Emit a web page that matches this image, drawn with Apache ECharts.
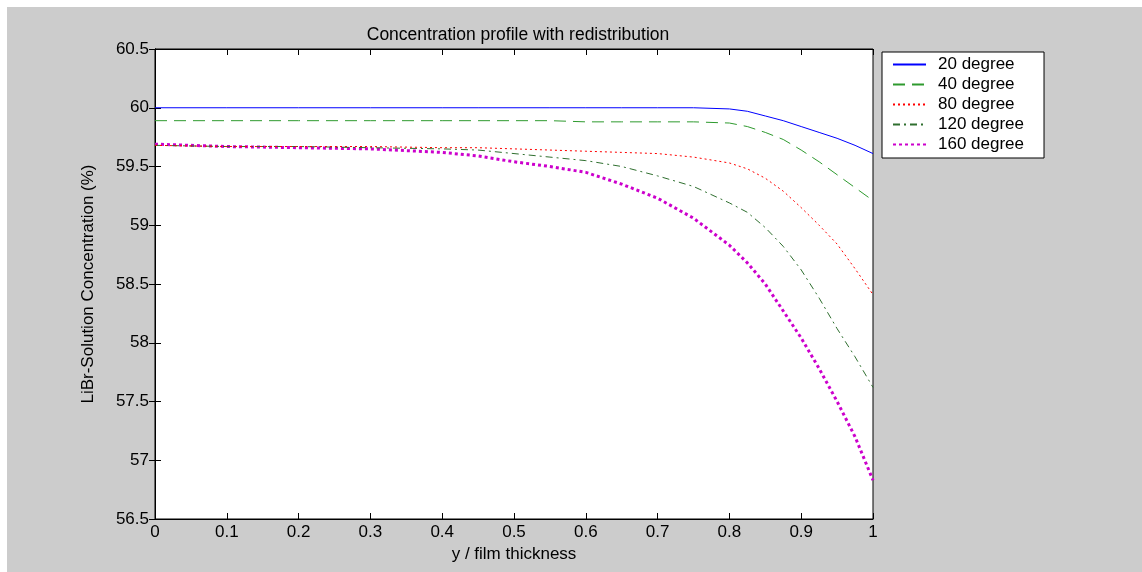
<!DOCTYPE html>
<html>
<head>
<meta charset="utf-8">
<script src="https://cdn.jsdelivr.net/npm/echarts@6/dist/echarts.min.js"></script>
<style>
html,body{margin:0;padding:0;background:#ffffff;width:1142px;height:572px;overflow:hidden;}
#chart{position:absolute;left:7px;top:7px;width:1135px;height:565px;}
</style>
</head>
<body>
<div id="chart"></div>
<script>
var xValues = [0,0.1,0.2,0.3,0.4,0.45,0.5,0.55,0.6,0.65,0.7,0.75,0.8,0.825,0.85,0.875,0.9,0.925,0.95,0.975,1.0];
var deg20  = [60.0,60.0,60.0,60.0,60.0,60.0,60.0,60.0,60.0,60.0,60.0,60.0,59.99,59.97,59.93,59.89,59.84,59.79,59.74,59.68,59.61];
var deg40  = [59.89,59.89,59.89,59.89,59.89,59.89,59.89,59.89,59.88,59.88,59.88,59.88,59.87,59.84,59.79,59.73,59.64,59.54,59.43,59.32,59.21];
var deg80  = [59.68,59.67,59.67,59.67,59.66,59.66,59.65,59.64,59.63,59.62,59.61,59.58,59.53,59.48,59.40,59.29,59.15,59.00,58.84,58.63,58.41];
var deg120 = [59.68,59.67,59.67,59.66,59.65,59.64,59.61,59.58,59.55,59.50,59.42,59.33,59.19,59.11,58.98,58.82,58.62,58.38,58.12,57.88,57.62];
var deg160 = [59.69,59.67,59.66,59.65,59.62,59.59,59.54,59.50,59.45,59.35,59.23,59.06,58.83,58.68,58.50,58.27,58.04,57.78,57.50,57.20,56.83];
var seriesNames = ['20 degree','40 degree','80 degree','120 degree','160 degree'];
var titleText = 'Concentration profile with redistribution';
var xName = 'y / film thickness';
var yName = 'LiBr-Solution Concentration (%)';

function pairs(ys){ return xValues.map(function(x,i){ return [x, ys[i]]; }); }

var font = 'Liberation Sans, Arial, sans-serif';
var chart = echarts.init(document.getElementById('chart'));
var styles = [
  {color:'#0000ff', width:1, type:'solid'},
  {color:'#2e9a2e', width:1, type:[12,7]},
  {color:'#ff0000', width:1, type:[2,3]},
  {color:'#2f6f2f', width:1, type:[7,4,2,4]},
  {color:'#cc00cc', width:3, type:[3,3]}
];
var datas = [deg20, deg40, deg80, deg120, deg160];
var series = datas.map(function(d,i){
  return {
    name: seriesNames[i], type:'line', data: pairs(d), symbol:'none', smooth:false,
    lineStyle: styles[i], itemStyle:{color: styles[i].color}, z: 10-i
  };
});

chart.setOption({
  backgroundColor:'#cccccc',
  animation:false,
  title:{text:titleText, left:506, top:14, textAlign:'center',
    textStyle:{fontFamily:font, fontSize:17.5, fontWeight:'normal', color:'#000'}},
  legend:{
    orient:'vertical', left:875, top:45, data:seriesNames,
    backgroundColor:'#ffffff', borderColor:'#000', borderWidth:1,
    padding:[4,20,5,10], itemWidth:33, itemHeight:14, itemGap:3,
    itemStyle:{opacity:0},
    textStyle:{fontFamily:font, fontSize:17, color:'#000', padding:[0,0,0,7]}
  },
  grid:{left:148, top:42, width:718, height:470, show:true, backgroundColor:'#ffffff', borderColor:'#000', borderWidth:1},
  xAxis:[{
    type:'value', min:0, max:1, interval:0.1, position:'bottom',
    name:xName, nameLocation:'middle', nameGap:27,
    nameTextStyle:{fontFamily:font, fontSize:17, color:'#000'},
    axisLine:{show:true, lineStyle:{color:'#000'}},
    axisTick:{inside:true, length:6, lineStyle:{color:'#000'}},
    axisLabel:{fontFamily:font, fontSize:17, color:'#000', margin:5},
    splitLine:{show:false}
  },{
    type:'value', min:0, max:1, interval:0.1, position:'top',
    axisLine:{show:true, lineStyle:{color:'#000'}},
    axisTick:{inside:true, length:6, lineStyle:{color:'#000'}},
    axisLabel:{show:false}, splitLine:{show:false}
  }],
  yAxis:[{
    type:'value', min:56.5, max:60.5, interval:0.5, position:'left',
    name:yName, nameLocation:'middle', nameGap:58, nameRotate:90,
    nameTextStyle:{fontFamily:font, fontSize:17, color:'#000'},
    axisLine:{show:true, lineStyle:{color:'#000'}},
    axisTick:{inside:true, length:6, lineStyle:{color:'#000'}},
    axisLabel:{fontFamily:font, fontSize:17, color:'#000', margin:6},
    splitLine:{show:false}
  },{
    type:'value', min:56.5, max:60.5, interval:0.5, position:'right',
    axisLine:{show:true, lineStyle:{color:'#000'}},
    axisTick:{inside:true, length:6, lineStyle:{color:'#000'}},
    axisLabel:{show:false}, splitLine:{show:false}
  }],
  series: series
});
</script>
</body>
</html>
